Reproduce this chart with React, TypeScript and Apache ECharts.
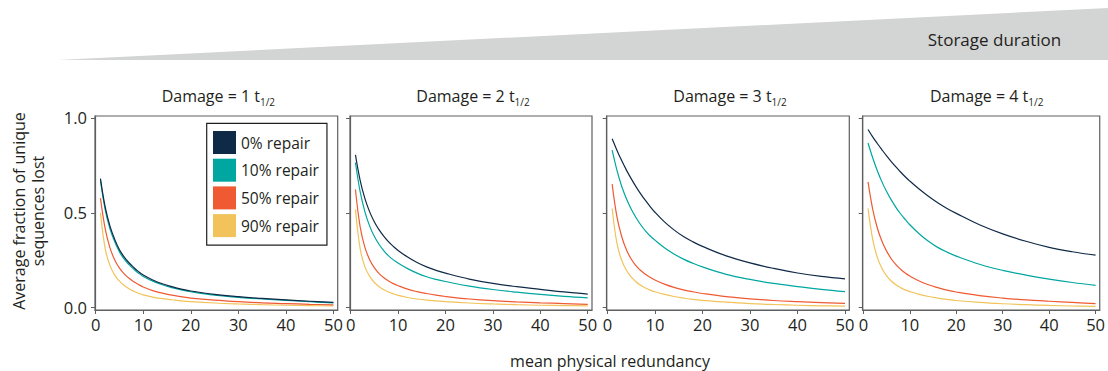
import React, { useEffect, useRef } from "react";
import * as echarts from "echarts";

// mean physical redundancy (x)
const X = [1, 2, 3, 4, 5, 6, 7, 8, 9, 10, 12, 14, 16, 18, 20, 25, 30, 35, 40, 45, 50];

const REPAIR_NAMES = ["0% repair", "10% repair", "50% repair", "90% repair"];
const COLORS = ["#0f2a47", "#00a6a0", "#ef5a33", "#f1c35a"];
const DAMAGE = ["1", "2", "3", "4"];
const X_TICKS = [0, 10, 20, 30, 40, 50];
const Y_TICKS = [0, 0.5, 1];

// Damage = 1 t1/2
const p1_r0 = [0.68, 0.53, 0.43, 0.36, 0.305, 0.267, 0.237, 0.212, 0.19, 0.172, 0.146, 0.126, 0.111, 0.098, 0.088, 0.07, 0.058, 0.049, 0.041, 0.034, 0.028];
const p1_r10 = [0.67, 0.515, 0.415, 0.347, 0.294, 0.256, 0.227, 0.203, 0.182, 0.165, 0.14, 0.121, 0.106, 0.094, 0.084, 0.066, 0.055, 0.046, 0.039, 0.032, 0.026];
const p1_r50 = [0.577, 0.415, 0.315, 0.252, 0.209, 0.178, 0.155, 0.137, 0.122, 0.109, 0.09, 0.077, 0.066, 0.058, 0.051, 0.04, 0.032, 0.026, 0.022, 0.018, 0.015];
const p1_r90 = [0.5, 0.31, 0.222, 0.172, 0.14, 0.117, 0.1, 0.087, 0.076, 0.068, 0.056, 0.048, 0.042, 0.036, 0.032, 0.025, 0.02, 0.016, 0.013, 0.011, 0.009];

// Damage = 2 t1/2
const p2_r0 = [0.805, 0.67, 0.575, 0.505, 0.452, 0.41, 0.376, 0.347, 0.323, 0.302, 0.267, 0.238, 0.215, 0.197, 0.182, 0.151, 0.128, 0.111, 0.097, 0.083, 0.072];
const p2_r10 = [0.765, 0.61, 0.505, 0.43, 0.375, 0.333, 0.3, 0.273, 0.252, 0.235, 0.206, 0.182, 0.163, 0.149, 0.138, 0.114, 0.096, 0.082, 0.07, 0.06, 0.052];
const p2_r50 = [0.623, 0.425, 0.318, 0.253, 0.21, 0.18, 0.158, 0.141, 0.127, 0.116, 0.098, 0.085, 0.075, 0.066, 0.059, 0.046, 0.037, 0.031, 0.026, 0.022, 0.018];
const p2_r90 = [0.518, 0.31, 0.215, 0.165, 0.133, 0.111, 0.095, 0.083, 0.073, 0.065, 0.054, 0.046, 0.04, 0.036, 0.032, 0.025, 0.02, 0.016, 0.013, 0.011, 0.01];

// Damage = 3 t1/2
const p3_r0 = [0.89, 0.83, 0.775, 0.725, 0.68, 0.638, 0.6, 0.565, 0.533, 0.503, 0.452, 0.41, 0.375, 0.347, 0.323, 0.273, 0.236, 0.207, 0.183, 0.165, 0.152];
const p3_r10 = [0.83, 0.725, 0.64, 0.574, 0.52, 0.475, 0.437, 0.405, 0.378, 0.356, 0.316, 0.283, 0.256, 0.234, 0.215, 0.176, 0.149, 0.128, 0.111, 0.097, 0.085];
const p3_r50 = [0.651, 0.48, 0.375, 0.305, 0.257, 0.222, 0.196, 0.176, 0.16, 0.146, 0.124, 0.107, 0.094, 0.084, 0.075, 0.058, 0.047, 0.038, 0.032, 0.027, 0.023];
const p3_r90 = [0.523, 0.34, 0.25, 0.197, 0.162, 0.137, 0.118, 0.104, 0.093, 0.084, 0.07, 0.059, 0.051, 0.044, 0.039, 0.029, 0.022, 0.017, 0.013, 0.01, 0.008];

// Damage = 4 t1/2
const p4_r0 = [0.939, 0.9, 0.865, 0.832, 0.8, 0.77, 0.742, 0.715, 0.69, 0.667, 0.625, 0.587, 0.553, 0.523, 0.497, 0.437, 0.389, 0.35, 0.318, 0.295, 0.277];
const p4_r10 = [0.868, 0.79, 0.722, 0.663, 0.612, 0.568, 0.529, 0.495, 0.465, 0.437, 0.39, 0.35, 0.318, 0.293, 0.272, 0.229, 0.197, 0.172, 0.151, 0.133, 0.118];
const p4_r50 = [0.663, 0.52, 0.42, 0.35, 0.298, 0.258, 0.227, 0.203, 0.183, 0.167, 0.141, 0.121, 0.106, 0.093, 0.083, 0.064, 0.051, 0.041, 0.034, 0.028, 0.022];
const p4_r90 = [0.523, 0.36, 0.265, 0.207, 0.168, 0.141, 0.121, 0.106, 0.094, 0.085, 0.07, 0.059, 0.051, 0.044, 0.038, 0.028, 0.021, 0.016, 0.012, 0.009, 0.007];

const PANELS = [
  [p1_r0, p1_r10, p1_r50, p1_r90],
  [p2_r0, p2_r10, p2_r50, p2_r90],
  [p3_r0, p3_r10, p3_r50, p3_r90],
  [p4_r0, p4_r10, p4_r50, p4_r90],
];

const FONT = "'Open Sans', sans-serif";
const TEXT = "#231f20";
const FRAME = "#5e5f61";
const GRID_LEFT = [95, 350, 606.7, 862.7];
const GRID_W = [242.7, 242, 242.6, 244];
const GRID_TOP = 116;
const GRID_H = 194;

export default function App() {
  const ref = useRef<HTMLDivElement>(null);
  useEffect(() => {
    if (!ref.current) return;
    const chart = echarts.init(ref.current, null, { renderer: "svg" });

    const grid = GRID_LEFT.map((l, i) => ({
      left: l,
      top: GRID_TOP,
      width: GRID_W[i],
      height: GRID_H,
      show: true,
      borderColor: FRAME,
      borderWidth: 1.2,
      backgroundColor: "transparent",
    }));

    const xAxis = GRID_LEFT.map((_, i) => ({
      type: "value",
      gridIndex: i,
      min: -0.15,
      max: 50.9,
      axisLine: { show: true, onZero: false, lineStyle: { color: FRAME, width: 1.2 } },
      splitLine: { show: false },
      axisTick: { show: true, customValues: X_TICKS, length: 4, lineStyle: { color: FRAME } },
      axisLabel: { customValues: X_TICKS, fontSize: 16.5, color: TEXT, fontFamily: FONT, margin: 6 },
    }));

    const yAxis = GRID_LEFT.map((_, i) => ({
      type: "value",
      gridIndex: i,
      min: -0.012,
      max: 1.01,
      axisLine: { show: true, onZero: false, lineStyle: { color: FRAME, width: 1.2 } },
      splitLine: { show: false },
      axisTick: { show: true, customValues: Y_TICKS, length: 4, lineStyle: { color: FRAME } },
      axisLabel: {
        show: i === 0,
        customValues: Y_TICKS,
        fontSize: 16.5,
        color: TEXT,
        fontFamily: FONT,
        margin: 8,
        formatter: (v: number) => v.toFixed(1),
      },
    }));

    const series: any[] = [];
    PANELS.forEach((panel, p) => {
      for (let r = panel.length - 1; r >= 0; r--) {
        series.push({
          type: "line",
          name: REPAIR_NAMES[r],
          xAxisIndex: p,
          yAxisIndex: p,
          data: X.map((x, k) => [x, panel[r][k]]),
          showSymbol: false,
          symbol: "none",
          smooth: 0.4,
          color: COLORS[r],
          lineStyle: { width: 1.2, color: COLORS[r] },
          itemStyle: { color: COLORS[r] },
          silent: true,
        });
      }
    });

    const titles = DAMAGE.map((d, i) => ({
      type: "text",
      x: GRID_LEFT[i] + GRID_W[i] / 2 + 2,
      y: 96,
      style: {
        text: `Damage = ${d} t{sub|1/2}`,
        fontSize: 16,
        fontFamily: FONT,
        fill: TEXT,
        align: "center",
        verticalAlign: "middle",
        lineHeight: 22,
        rich: {
          sub: { fontSize: 10, lineHeight: 12, verticalAlign: "bottom", fontFamily: FONT, fill: TEXT },
        },
      },
    }));

    chart.setOption({
      animation: false,
      grid,
      xAxis,
      yAxis,
      series,
      legend: {
        data: REPAIR_NAMES,
        orient: "vertical",
        left: 206.7,
        top: 123.3,
        itemWidth: 23,
        itemHeight: 23,
        itemGap: 4.7,
        padding: [7.7, 8, 8, 6.3],
        borderColor: TEXT,
        borderWidth: 1.2,
        icon: "rect",
        selectedMode: false,
        itemStyle: { borderWidth: 0 },
        textStyle: { fontSize: 15.5, color: TEXT, fontFamily: FONT },
      },
      graphic: [
        {
          type: "polygon",
          shape: { points: [[58, 60], [1108, 8], [1108, 60]] },
          style: { fill: "#d3d4d4" },
        },
        {
          type: "text",
          x: 994.5,
          y: 39,
          style: { text: "Storage duration", fontSize: 17, fontFamily: FONT, fill: TEXT, align: "center", verticalAlign: "middle" },
        },
        ...titles,
        {
          type: "text",
          x: 28.5,
          y: 211,
          rotation: Math.PI / 2,
          style: {
            text: "Average fraction of unique\nsequences lost",
            fontSize: 16,
            lineHeight: 19,
            fontFamily: FONT,
            fill: TEXT,
            align: "center",
            verticalAlign: "middle",
          },
        },
        {
          type: "text",
          x: 610,
          y: 361,
          style: { text: "mean physical redundancy", fontSize: 16, fontFamily: FONT, fill: TEXT, align: "center", verticalAlign: "middle" },
        },
      ],
    });

    return () => chart.dispose();
  }, []);

  return <div ref={ref} style={{ position: "absolute", left: 0, top: 0, width: 1108, height: 371 }} />;
}
